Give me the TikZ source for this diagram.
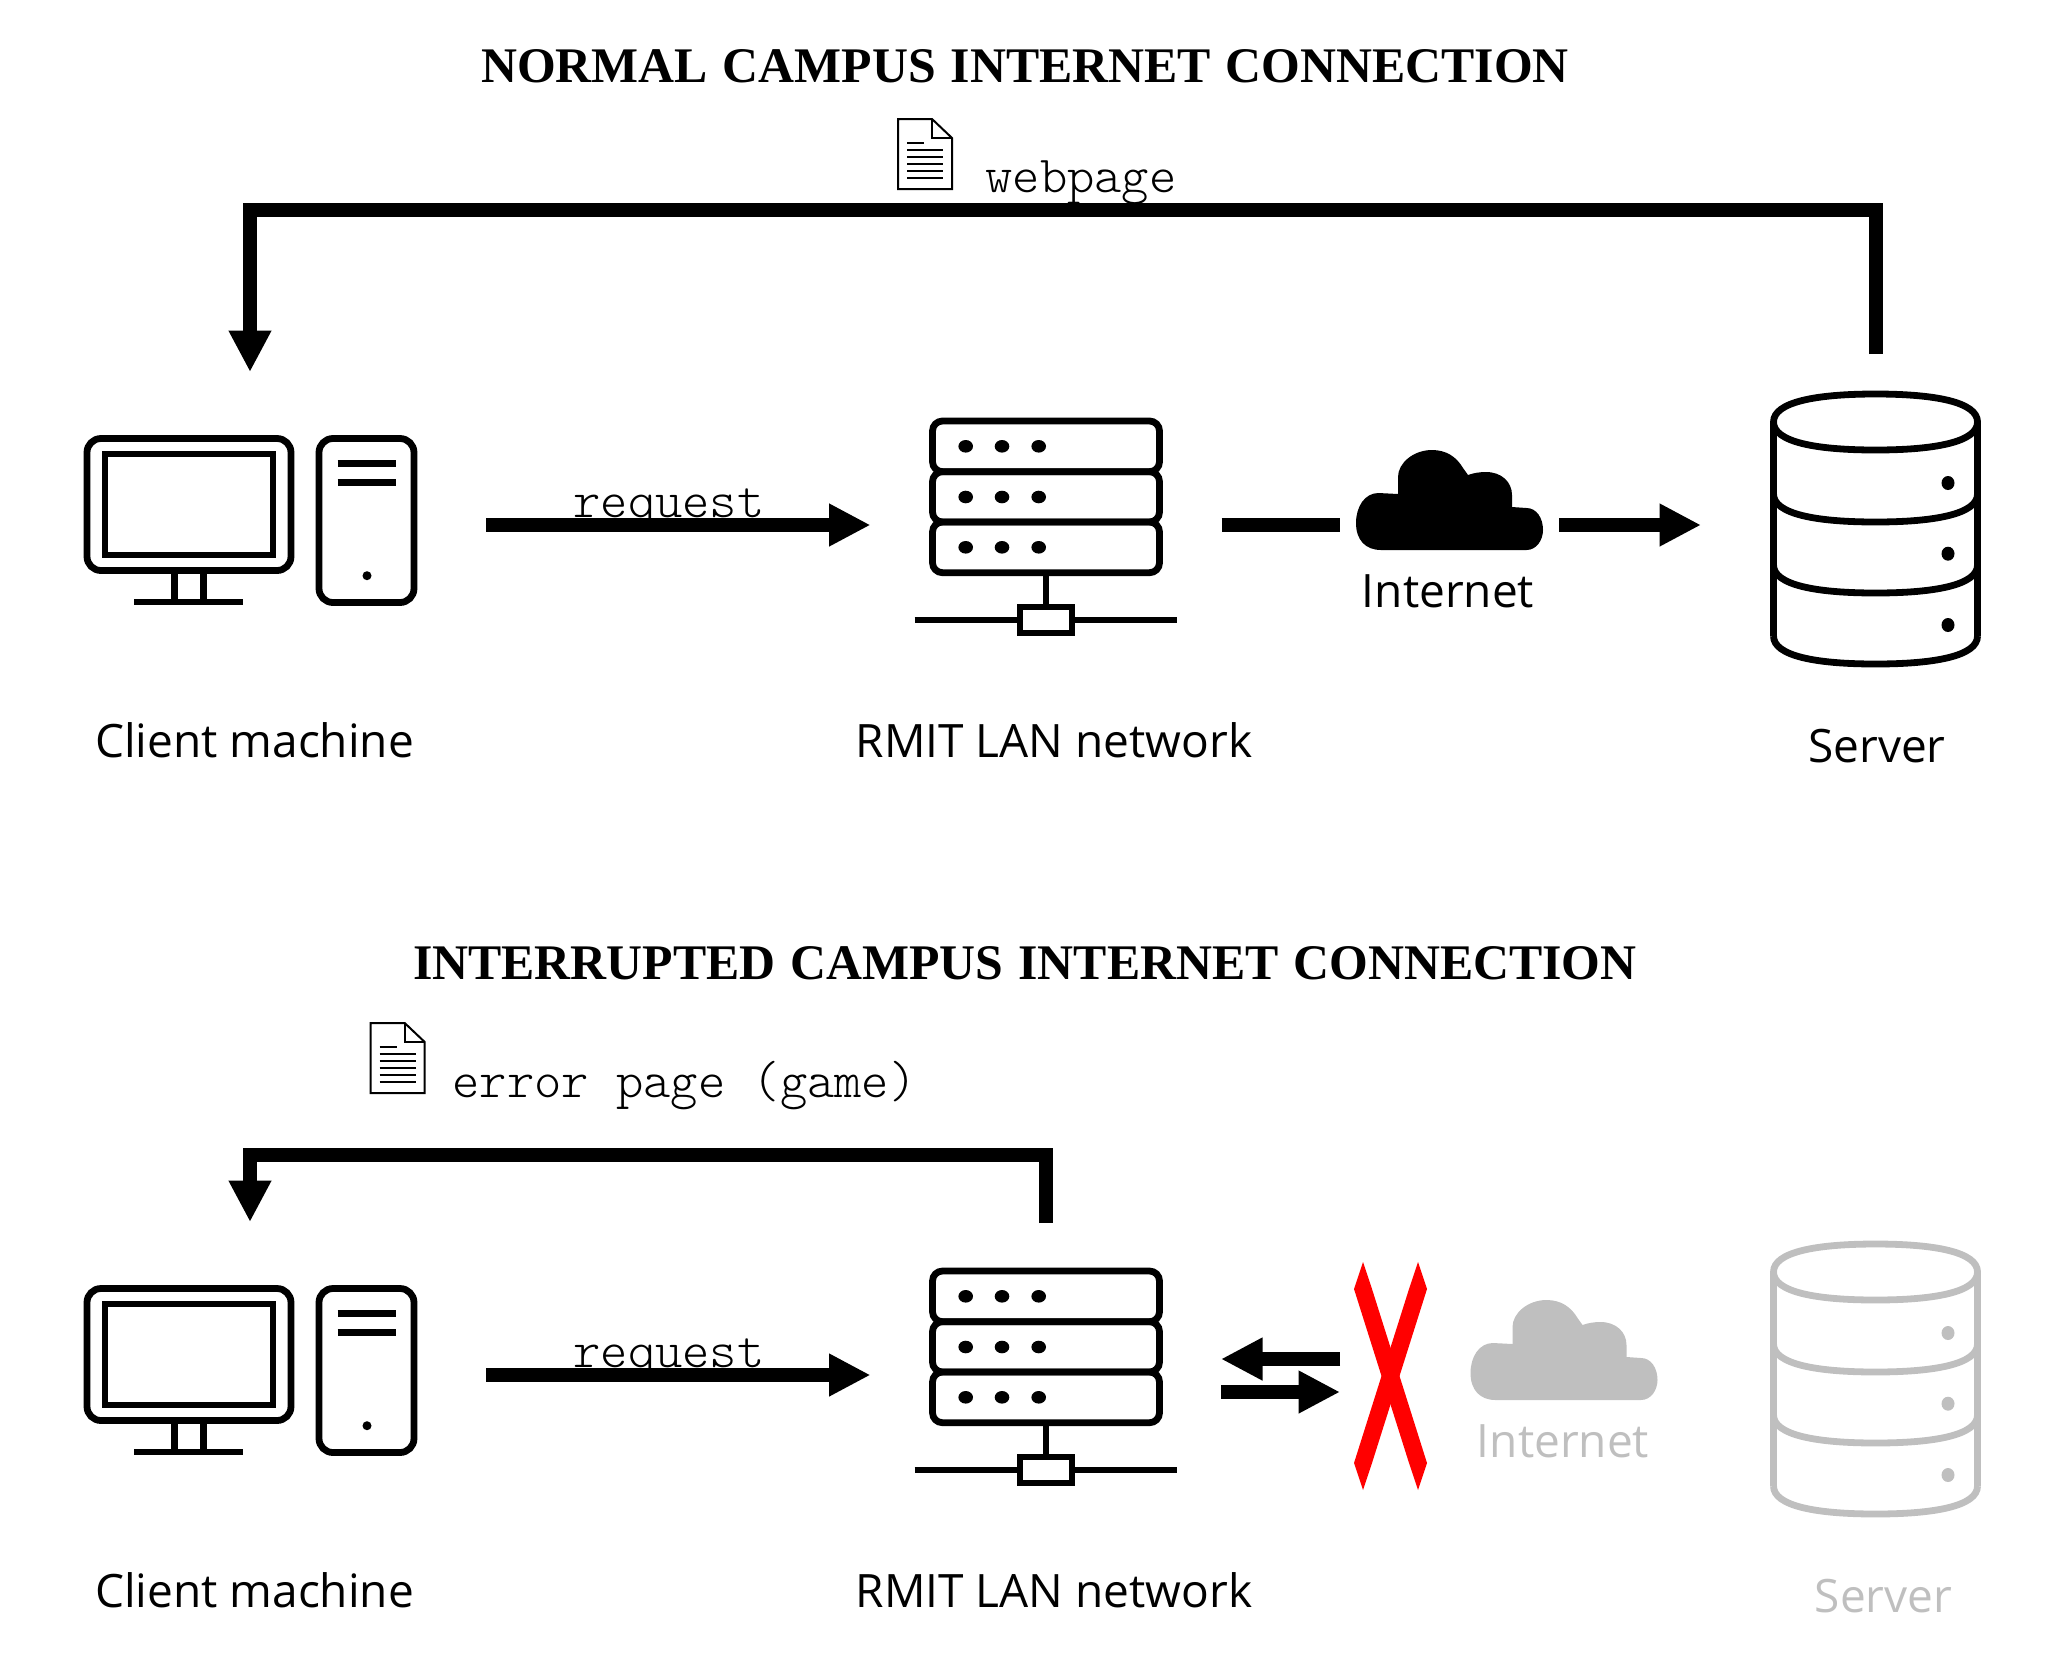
\documentclass[tikz,border=0pt]{standalone}
\usepackage{fontspec}
\setmainfont{Open Sans}
\setmonofont{Latin Modern Mono Light}
\newfontfamily\titlefont[WordSpace=1.2]{Liberation Serif}
\usetikzlibrary{arrows.meta, positioning, calc}
\definecolor{fadedgray}{HTML}{BFBFBF}
\tikzset{
  titlelabel/.style={inner sep=0pt, anchor=base, font=\fontsize{24.9}{30}\titlefont\bfseries},
  namelabel/.style={inner sep=0pt, anchor=base, font=\fontsize{23}{28}\selectfont},
  monolabel/.style={inner sep=0pt, anchor=base west, font=\fontsize{26}{30}\ttfamily},
  iconslot/.style={inner sep=0pt, outer sep=0pt},
  iconline/.style={line width=3.4pt, line cap=butt},
  flowline/.style={line width=7pt, line cap=butt},
  flowarrow/.style={flowline, -{Triangle[length=20.75pt, width=20pt]}},
  % icons, drawn round the point where they are placed
  pics/pcicon/.style={code={
    \draw[iconline, rounded corners=7pt] (-163,-86.5) rectangle (41,45.5);
    \draw[iconline] (-145,-71) rectangle (23,30);
    \draw[iconline] (-75.5,45.5) -- (-75.5,77) (-46.5,45.5) -- (-46.5,77);
    \draw[iconline] (-116,77) -- (-7,77);
    \draw[iconline, rounded corners=7pt] (69,-86.5) rectangle (164,77.5);
    \draw[line width=3.5pt] (87.5,-61.5) -- (146,-61.5) (87.5,-42.5) -- (146,-42.5);
    \fill (117,50.7) circle[radius=4.5];
  }},
  pics/rackicon/.style={code={
    \foreach \ya/\yb/\yd in {-104/-53.3/-78.7, -53.3/-3/-28, -3/47.7/22.3} {
      \draw[iconline, rounded corners=5pt] (-113.5,\ya) rectangle (113.5,\yb);
      \foreach \xd in {-80.3,-44,-7.3}
        \fill (\xd,\yd) ellipse[x radius=7.3, y radius=6.3];
    }
    \draw[iconline] (0,47.7) -- (0,82);
    \draw[iconline] (-26,82) rectangle (26,108);
    \draw[iconline] (-131.3,95) -- (-26,95) (26,95) -- (131.3,95);
  }},
  pics/dbicon/.style={code={
    \draw[iconline, draw=#1] (-102.5,-103) .. controls (-102.5,-123) and (-60,-131) .. (-0.5,-131)
      .. controls (59,-131) and (101.5,-123) .. (101.5,-103)
      .. controls (101.5,-83) and (59,-75) .. (-0.5,-75)
      .. controls (-60,-75) and (-102.5,-83) .. cycle;
    \foreach \yb/\yd in {-31/-42, 40/28.7, 111/100} {
      \draw[iconline, draw=#1] (-102.5,\yb) .. controls (-102.5,\yb+20) and (-60,\yb+28) .. (-0.5,\yb+28)
        .. controls (59,\yb+28) and (101.5,\yb+20) .. (101.5,\yb);
      \fill[#1] (72,\yd) ellipse[x radius=6.5, y radius=7];
    }
    \draw[iconline, draw=#1] (-102.5,-103) -- (-102.5,111) (101.5,-103) -- (101.5,111);
  }},
  pics/dbicon/.default=black,
  pics/cloudicon/.style={code={
    \fill[#1] (-68.5,25) .. controls (-84,25) and (-93.5,15) .. (-93.5,-2)
      .. controls (-93.5,-18) and (-85,-32) .. (-71,-32) -- (-51.5,-31) -- (-51.5,-48)
      .. controls (-51.5,-62) and (-36,-75) .. (-17.5,-75)
      .. controls (-3,-75) and (7,-68) .. (13.5,-57) -- (18.5,-50)
      .. controls (24,-52) and (30,-53) .. (36.5,-53)
      .. controls (52,-53) and (62.5,-43) .. (62.5,-30) -- (62.5,-18) -- (77,-17)
      .. controls (87,-17) and (93.5,-7) .. (93.5,5)
      .. controls (93.5,15) and (87,25) .. (77,25) -- cycle;
  }},
  pics/cloudicon/.default=black,
  pics/pageicon/.style={code={
    \draw[line width=1pt] (-27,-35) -- (7,-35) -- (27,-16) -- (27,35) -- (-27,35) -- cycle;
    \draw[line width=1pt] (7,-35) -- (7,-16) -- (27,-16);
    \draw[line width=0.8pt] (-18,-11.3) -- (-1,-11.3);
    \foreach \yl in {-4,3,10,17,24}
      \draw[line width=0.8pt] (-18,\yl) -- (18,\yl);
  }},
  pics/cuticon/.style={code={
    \foreach \side in {1,-1}
      \fill[red, xscale=\side] (-27.5,-114) -- (-18.5,-87) -- (36.5,87) -- (27.5,114) -- (18.5,87) -- (-36.5,-87) -- cycle;
  }},
}
\begin{document}
\begin{tikzpicture}[x=0.5pt, y=-0.5pt]
  \useasboundingbox (0,0) rectangle (2050,1666);
  % Normal connection
  \node[titlelabel] (title1) at (1025,82) {NORMAL CAMPUS INTERNET CONNECTION};
  \node[iconslot, minimum width=236pt, minimum height=153pt] (client1) at (250,525) {};
  \node[iconslot, minimum width=175.5pt, minimum height=152pt] (lan1) at (1046,525) {};
  \node[iconslot, minimum width=109.5pt, minimum height=60pt] (cloud1) at (1449.5,525) {};
  \node[iconslot, minimum width=175pt, minimum height=171pt] (server1) at (1876,525) {};
  \coordinate (top1) at (1046,210);
  \pic at (client1) {pcicon};
  \pic at (lan1) {rackicon};
  \pic at (cloud1) {cloudicon};
  \pic at (server1) {dbicon};
  \pic at (925,154) {pageicon};
  \node[monolabel] (page1) at (985,192) {webpage};
  \node[monolabel] (req1) at (573,517) {request};
  \node[namelabel] (clientname1) at (254.5,757) {Client machine};
  \node[namelabel] (lanname1) at (1054,757) {RMIT LAN network};
  \node[namelabel] (cloudname1) at (1448,607.7) {Internet};
  \node[namelabel] (servername1) at (1877,762.7) {Server};
  % Arcs
  \draw[flowarrow] (client1.east) -- (lan1.west);
  \draw[flowline] (lan1.east) -- (cloud1.west);
  \draw[flowarrow] (cloud1.east) -- (server1.west);
  \draw[flowarrow] (server1.north) |- (top1) -| (client1.north);

  % Interrupted connection
  \node[titlelabel] (title2) at (1025,979) {INTERRUPTED CAMPUS INTERNET CONNECTION};
  \node[iconslot, minimum width=236pt, minimum height=153pt] (client2) at (250,1375) {};
  \node[iconslot, minimum width=175.5pt, minimum height=152pt] (lan2) at (1046,1375) {};
  \node[iconslot, minimum width=109.5pt, minimum height=60pt] (cloud2) at (1564,1375) {};
  \node[iconslot, minimum width=175pt, minimum height=171pt] (server2) at (1876,1375) {};
  \coordinate (top2) at (648,1154.5);
  \coordinate (backa) at (1340,1359);
  \coordinate (backb) at (1221,1359);
  \coordinate (outa) at (1221,1392);
  \coordinate (outb) at (1340,1392);
  \pic at (client2) {pcicon};
  \pic at (lan2) {rackicon};
  \pic at (cloud2) {cloudicon=fadedgray};
  \pic at (server2) {dbicon=fadedgray};
  \pic at (1390.5,1376) {cuticon};
  \pic at (397.7,1058) {pageicon};
  \node[monolabel] (page2) at (452,1097.3) {error page (game)};
  \node[monolabel] (req2) at (573,1367) {request};
  \node[namelabel] (clientname2) at (254.5,1607) {Client machine};
  \node[namelabel] (lanname2) at (1054,1607) {RMIT LAN network};
  \node[namelabel, text=fadedgray] (cloudname2) at (1563,1457.7) {Internet};
  \node[namelabel, text=fadedgray] (servername2) at (1883.5,1612.7) {Server};
  % Arcs
  \draw[flowarrow] (client2.east) -- (lan2.west);
  \draw[flowarrow] (backa) -- (backb);
  \draw[flowarrow] (outa) -- (outb);
  \draw[flowarrow] (lan2.north) |- (top2) -| (client2.north);
\end{tikzpicture}
\end{document}
